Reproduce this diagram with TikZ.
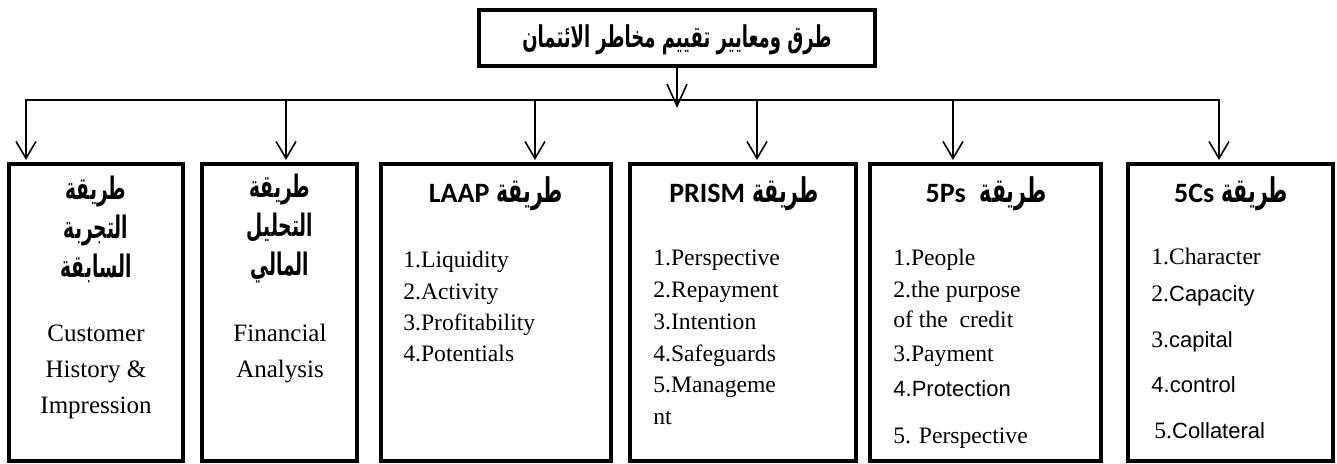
\documentclass[tikz,border=0pt]{standalone}
\usepackage{fontspec}
\setmainfont{Liberation Serif}
\newfontfamily\arabicfont[Script=Arabic,FakeStretch=0.6]{DejaVu Sans}
\newfontfamily\hdfont{Carlito}
\newfontfamily\arialfont{Liberation Sans}
\TeXXeTstate=1
\usetikzlibrary{arrows.meta,fit}
\newcommand\arhd[1]{{\arabicfont\bfseries\fontsize{17}{18}\selectfont\beginR #1\endR}}
\newcommand\arl[1]{{\arialfont\fontsize{11}{13}\selectfont #1}}
\begin{document}
\begin{tikzpicture}[x=0.5pt,y=-0.5pt,
  box/.style={draw, line width=2pt, inner sep=0pt},
  conn/.style={line width=0.8pt, line cap=rect},
  arr/.style={conn, shorten >=1pt, -{Straight Barb[length=8.5pt,width=10pt,line width=0.8pt]}},
  arrM/.style={conn, -{Straight Barb[length=11pt,width=10pt,line width=0.8pt]}},
  ttl/.style={inner sep=0pt, font=\arabicfont\bfseries\fontsize{15}{18}\selectfont},
  ar/.style={inner sep=0pt, align=center, font=\arabicfont\bfseries\fontsize{15.5}{19.5}\selectfont},
  en/.style={inner sep=0pt, align=center, font=\fontsize{12.5}{18}\selectfont},
  hd/.style={inner sep=0pt, font=\fontsize{14}{16}\selectfont},
  item/.style={anchor=base west, inner sep=0pt, font=\fontsize{11.8}{13}\selectfont},
]
\useasboundingbox (0,0) rectangle (1337,464);
% boxes
\path (479,10) coordinate (ta) (875,66) coordinate (tb);
\node[box, fit=(ta)(tb)] (title) {};
\node[ttl] (titletext) at (677,40) {\beginR طرق ومعايير تقييم مخاطر الائتمان\endR};
\path (9,164) coordinate (a1) (183,461) coordinate (c1);
\node[box, fit=(a1)(c1)] (b1) {};
\path (202,164) coordinate (a2) (357,461) coordinate (c2);
\node[box, fit=(a2)(c2)] (b2) {};
\path (381,164) coordinate (a3) (611,461) coordinate (c3);
\node[box, fit=(a3)(c3)] (b3) {};
\path (630,164) coordinate (a4) (856,461) coordinate (c4);
\node[box, fit=(a4)(c4)] (b4) {};
\path (870,164) coordinate (a5) (1101,461) coordinate (c5);
\node[box, fit=(a5)(c5)] (b5) {};
\path (1128,164) coordinate (a6) (1333,461) coordinate (c6);
\node[box, fit=(a6)(c6)] (b6) {};
% connectors
\coordinate (hL) at (26,100);
\coordinate (hR) at (1219,100);
\coordinate (hub) at (677,108);
\coordinate (t2) at (286,100);
\coordinate (t3) at (535,100);
\coordinate (t4) at (757,100);
\coordinate (t5) at (953,100);
\draw[arrM] (title.south -| hub) -- (hub);
\draw[arr] (hL) -- (hR) -- (hR |- b6.north);
\draw[arr] (hL) -- (hL |- b1.north);
\draw[arr] (t2) -- (t2 |- b2.north);
\draw[arr] (t3) -- (t3 |- b3.north);
\draw[arr] (t4) -- (t4 |- b4.north);
\draw[arr] (t5) -- (t5 |- b5.north);
% box 1
\node[ar] (h1) at (96,229) {\beginR طريقة\endR\\\beginR التجربة\endR\\\beginR السابقة\endR};
\node[en] (e1) at (96,372) {Customer\\History \&\\Impression};
% box 2
\node[ar] (h2) at (280,229) {\beginR طريقة\endR\\\beginR التحليل\endR\\\beginR المالي\endR};
\node[en] (e2) at (280,354) {Financial\\Analysis};
% box 3
\node[hd] (h3) at (496,194) {{\hdfont\bfseries LAAP} \arhd{طريقة}};
\node[item] (i31) at (403,268) {1.Liquidity};
\node[item] (i32) at (403,300) {2.Activity};
\node[item] (i33) at (403,331) {3.Profitability};
\node[item] (i34) at (403,362) {4.Potentials};
% box 4
\node[hd] (h4) at (744,194) {{\hdfont\bfseries PRISM} \arhd{طريقة}};
\node[item] (i41) at (653,266) {1.Perspective};
\node[item] (i42) at (653,298) {2.Repayment};
\node[item] (i43) at (653,329) {3.Intention};
\node[item] (i44) at (653,361) {4.Safeguards};
\node[item] (i45) at (653,393) {5.Manageme};
\node[item] (i46) at (653,424) {nt};
% box 5
\node[hd] (h5) at (986,194) {{\hdfont\bfseries 5Ps}\ \ \arhd{طريقة}};
\node[item] (i51) at (893,266) {1.People};
\node[item] (i52) at (893,298) {2.the purpose};
\node[item] (i53) at (893,328) {of the\ \ credit};
\node[item] (i54) at (893,361) {3.Payment};
\node[item] (i55) at (893,396) {\arl{4.Protection}};
\node[item] (i56) at (893,443) {5. Perspective};
% box 6
\node[hd] (h6) at (1231,194) {{\hdfont\bfseries 5Cs} \arhd{طريقة}};
\node[item] (i61) at (1151,265) {1.Character};
\node[item] (i62) at (1151,302) {2.\arl{Capacity}};
\node[item] (i63) at (1151,348) {3.\arl{capital}};
\node[item] (i64) at (1151,393) {\arl{4.control}};
\node[item] (i65) at (1154,438) {5.\arl{Collateral}};
\end{tikzpicture}
\end{document}
